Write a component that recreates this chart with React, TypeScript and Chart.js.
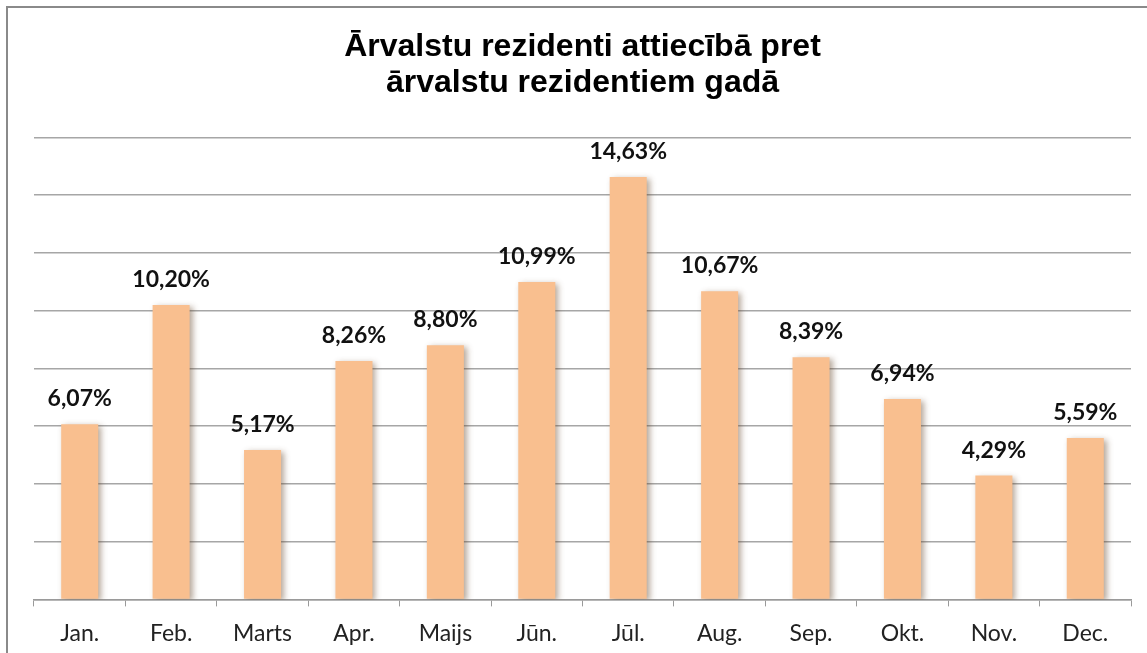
import React, { useEffect, useRef } from "react";
import { Chart, registerables } from "chart.js";

Chart.register(...registerables);

const titleLines = ["Ārvalstu rezidenti attiecībā pret", "ārvalstu rezidentiem gadā"];
const months = ["Jan.", "Feb.", "Marts", "Apr.", "Maijs", "Jūn.", "Jūl.", "Aug.", "Sep.", "Okt.", "Nov.", "Dec."];
const shares = [6.07, 10.2, 5.17, 8.26, 8.8, 10.99, 14.63, 10.67, 8.39, 6.94, 4.29, 5.59];
const yMin = 0;
const yMax = 16;
const yStep = 2;

const fmt = (v: number) => v.toFixed(2).replace(".", ",") + "%";

export default function App() {
  const ref = useRef<HTMLCanvasElement>(null);
  useEffect(() => {
    if (!ref.current) return;
    const frame = {
      id: "frame",
      beforeDraw(chart: any) {
        const ctx = chart.ctx;
        ctx.save();
        ctx.fillStyle = "#ffffff";
        ctx.fillRect(0, 0, chart.width, chart.height);
        ctx.strokeStyle = "#8a8a8a";
        ctx.lineWidth = 2;
        ctx.strokeRect(7, 7, 1300, 1000);
        ctx.restore();
      },
    };
    const shadow = {
      id: "shadow",
      beforeDatasetsDraw(chart: any) {
        const ctx = chart.ctx;
        ctx.save();
        ctx.shadowColor = "rgba(90,60,30,0.45)";
        ctx.shadowBlur = 6;
        ctx.shadowOffsetX = 3;
        ctx.shadowOffsetY = 2;
      },
      afterDatasetsDraw(chart: any) {
        chart.ctx.restore();
      },
    };
    const labels = {
      id: "vlabels",
      afterDatasetsDraw(chart: any) {
        const ctx = chart.ctx;
        const meta = chart.getDatasetMeta(0);
        ctx.save();
        ctx.font = "bold 23px Lato";
        ctx.fillStyle = "#111111";
        ctx.textAlign = "center";
        ctx.textBaseline = "alphabetic";
        meta.data.forEach((bar: any, i: number) => {
          ctx.fillText(fmt(shares[i]), bar.x, bar.y - 18);
        });
        ctx.restore();
      },
    };
    const chart = new Chart(ref.current, {
      type: "bar",
      data: {
        labels: months,
        datasets: [
          {
            data: shares,
            backgroundColor: "#f9bf8f",
            borderWidth: 0,
            categoryPercentage: 1,
            barPercentage: 0.405,
          },
        ],
      },
      options: {
        responsive: false,
        animation: false,
        layout: { padding: { top: 12, left: 34, right: 16, bottom: -7 } },
        plugins: {
          legend: { display: false },
          tooltip: { enabled: false },
          title: {
            display: true,
            text: titleLines,
            color: "#000000",
            font: { family: "Liberation Sans", size: 32, weight: "bold", lineHeight: 1.1 },
            padding: { top: 18, bottom: 37 },
          },
        },
        scales: {
          x: {
            offset: true,
            grid: {
              offset: true,
              drawOnChartArea: false,
              drawTicks: true,
              tickLength: 7,
              color: "#9a9a9a",
            },
            border: { color: "#9a9a9a", width: 1.5 },
            ticks: {
              color: "#222222",
              font: { family: "Lato", size: 23 },
              padding: 13,
              maxRotation: 0,
            },
          },
          y: {
            min: yMin,
            max: yMax,
            ticks: { display: false, stepSize: yStep },
            grid: { color: "#a6a6a6", lineWidth: 1.5, drawTicks: false },
            border: { display: false },
          },
        },
      },
      plugins: [frame, shadow, labels],
    });
    return () => chart.destroy();
  }, []);
  return (
    <div style={{ position: "absolute", left: 0, top: 0, width: 1147, height: 653 }}>
      <canvas ref={ref} width={1147} height={653} />
    </div>
  );
}
